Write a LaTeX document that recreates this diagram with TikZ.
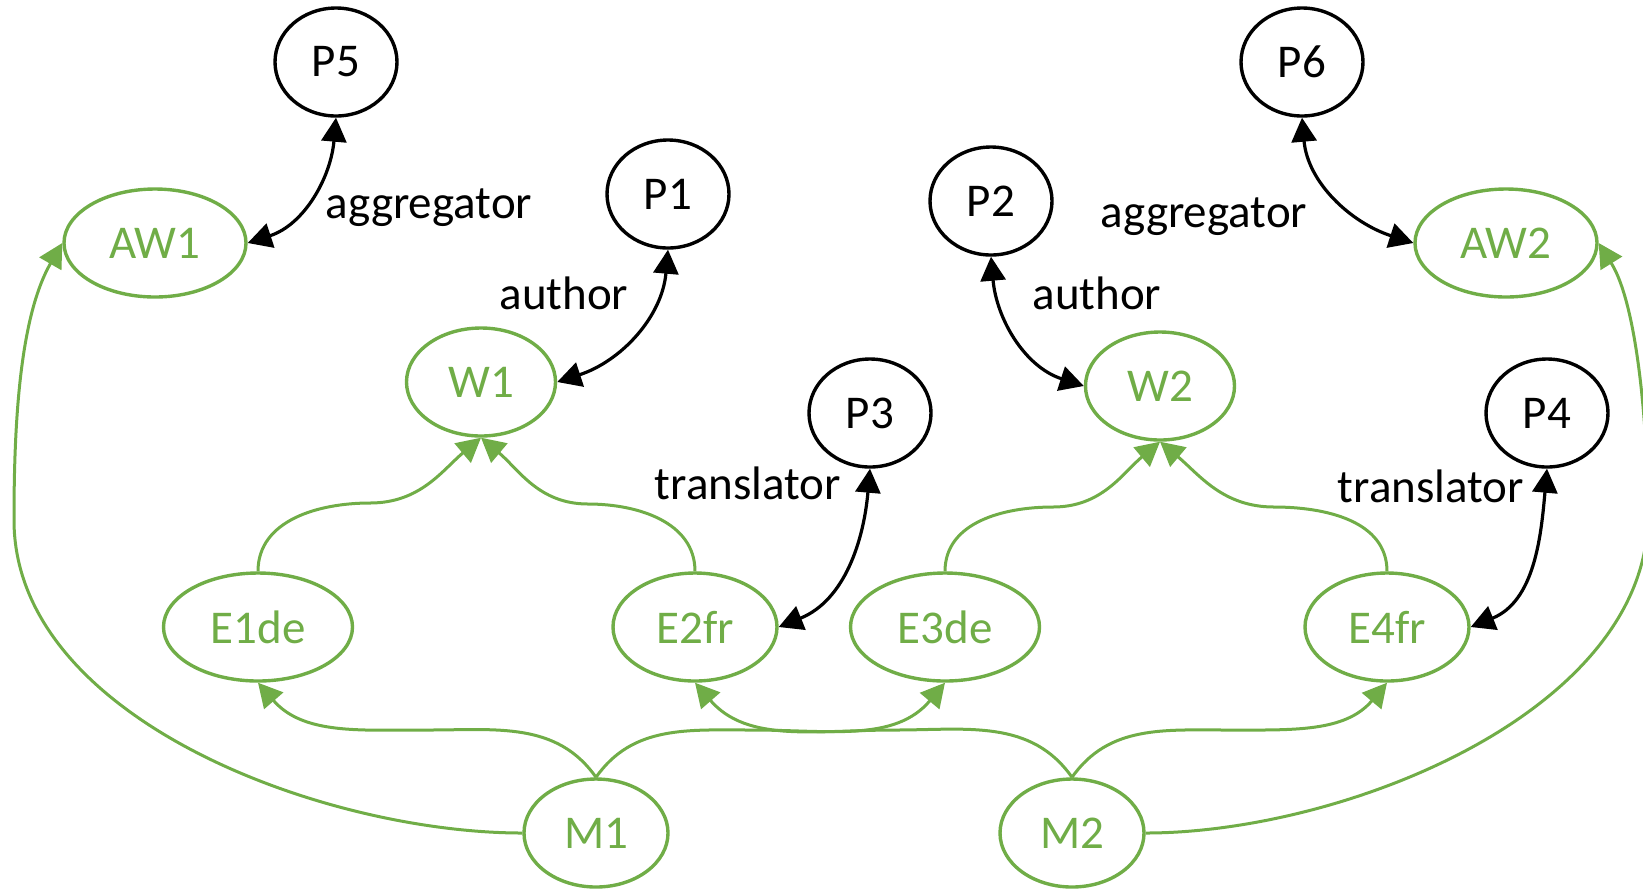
\documentclass[tikz,border=0pt]{standalone}
\usepackage{fontspec}
\setmainfont{Carlito}
\usetikzlibrary{shapes.geometric,arrows.meta}
\definecolor{grn}{RGB}{112,173,71}
\begin{document}
\begin{tikzpicture}[x=0.5pt,y=-0.5pt,
  txt/.style={font=\fontsize{23.5}{28}\selectfont},
  pnode/.style={ellipse,draw=black,line width=1.7pt,minimum width=61pt,minimum height=54pt,inner sep=0pt,txt},
  gnode/.style={ellipse,draw=grn,text=grn,line width=1.7pt,minimum height=54pt,inner sep=0pt,txt},
  lbl/.style={txt,anchor=base,inner sep=0pt},
  barrow/.style={draw=black,line width=1.6pt,{Triangle[length=12pt,width=12.5pt]}-{Triangle[length=12pt,width=12.5pt]}},
  garrow/.style={draw=grn,line width=1.5pt,-{Triangle[length=12pt,width=12.5pt]}}
]
\useasboundingbox (0,0) rectangle (1643,891);

% person nodes
\node[pnode] (P5) at (336,62) {P5};
\node[pnode] (P1) at (668,194) {P1};
\node[pnode] (P2) at (991,201) {P2};
\node[pnode] (P6) at (1302,62) {P6};
\node[pnode] (P3) at (870,413) {P3};
\node[pnode] (P4) at (1547,413) {P4};

% green nodes
\node[gnode,minimum width=91pt] (AW1) at (155,243) {AW1};
\node[gnode,minimum width=91pt] (AW2) at (1506,243) {AW2};
\node[gnode,minimum width=74.5pt] (W1) at (481,382) {W1};
\node[gnode,minimum width=74.5pt] (W2) at (1160,386) {W2};
\node[gnode,minimum width=94.5pt] (E1de) at (258,627) {E1de};
\node[gnode,minimum width=82pt] (E2fr) at (695,627) {E2fr};
\node[gnode,minimum width=94.5pt] (E3de) at (945,627) {E3de};
\node[gnode,minimum width=82pt] (E4fr) at (1387,627) {E4fr};
\node[gnode,minimum width=72pt] (M1) at (596,833) {M1};
\node[gnode,minimum width=72pt] (M2) at (1072,833) {M2};

% labels
\node[lbl] (lag1) at (429,218) {aggregator};
\node[lbl] (lag2) at (1204,227) {aggregator};
\node[lbl] (lau1) at (564,309) {author};
\node[lbl] (lau2) at (1097,309) {author};
\node[lbl] (ltr1) at (748,499) {translator};
\node[lbl] (ltr2) at (1431,502) {translator};

% black role connectors
\draw[barrow] (P5.south) to[out=-95,in=18] (AW1.east);
\draw[barrow] (P1.south) to[out=-95,in=18] (W1.east);
\draw[barrow] (P3.south) to[out=-95,in=22] (E2fr.east);
\draw[barrow] (P4.south) to[out=-95,in=22] (E4fr.east);
\draw[barrow] (P2.south) to[out=-85,in=162] (W2.west);
\draw[barrow] (P6.south) to[out=-85,in=162] (AW2.west);

% expressions to works
\draw[garrow] (E1de.north) to[out=90,in=180] (370,503) to[out=0,in=220] (W1.south);
\draw[garrow] (E2fr.north) to[out=90,in=0] (588,504) to[out=180,in=-40] (W1.south);
\draw[garrow] (E3de.north) to[out=90,in=180] (1053,507) to[out=0,in=220] (W2.south);
\draw[garrow] (E4fr.north) to[out=90,in=0] (1274,507) to[out=180,in=-40] (W2.south);

% manifestations to expressions
\draw[garrow] (M1.north) to[out=125,in=0] (428,730) to[out=180,in=-49] (E1de.south);
\draw[garrow] (M1.north) to[out=55,in=180] (752,730) to[out=0,in=-130] (E3de.south);
\draw[garrow] (M2.north) to[out=125,in=0] (895,730) to[out=180,in=-49] (E2fr.south);
\draw[garrow] (M2.north) to[out=55,in=180] (1228,730) to[out=0,in=-130] (E4fr.south);

% manifestations to aggregating works
\draw[garrow] (M1.west) to[out=180,in=-90,looseness=0.85] (14,520) to[out=90,in=-120,looseness=0.8] (AW1.west);
\draw[garrow] (M2.east) to[out=0,in=-90,looseness=0.85] (1648,515) to[out=90,in=-58,looseness=0.7] (AW2.east);
\end{tikzpicture}
\end{document}
